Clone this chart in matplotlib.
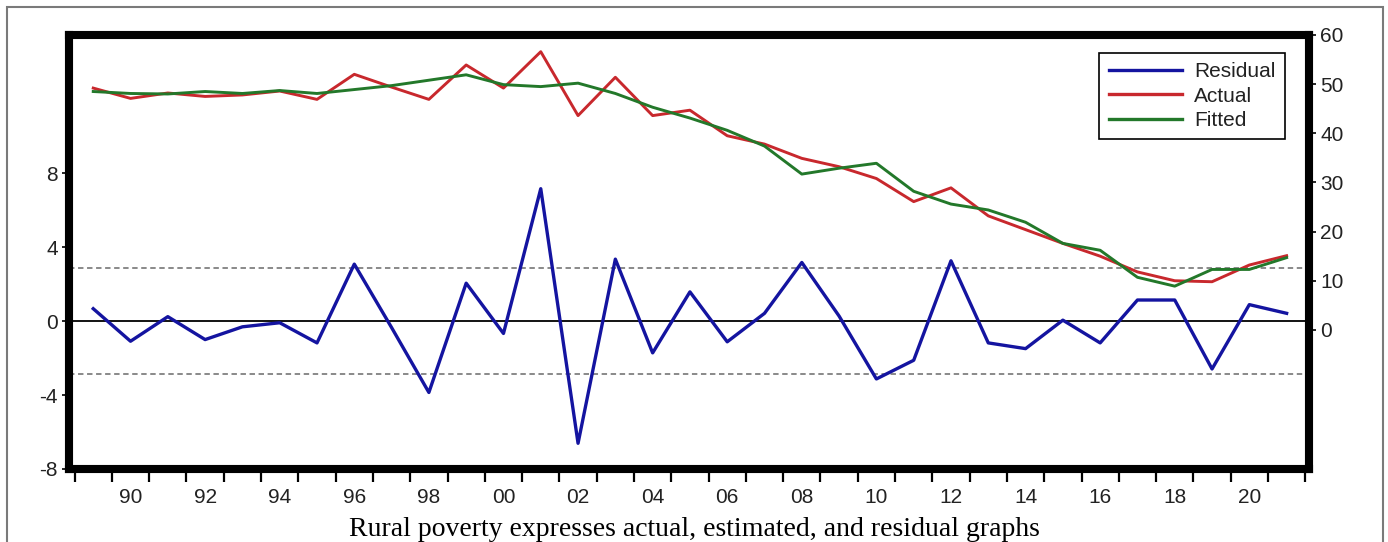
import matplotlib
matplotlib.use("Agg")
import matplotlib.pyplot as plt
from matplotlib.patches import Rectangle
from matplotlib.lines import Line2D

years = list(range(1989, 2022))
residual = [0.67, -1.09, 0.24, -1.0, -0.31, -0.09, -1.18, 3.08, -0.35, -3.86,
            2.05, -0.67, 7.16, -6.61, 3.35, -1.72, 1.58, -1.12, 0.42, 3.17,
            0.27, -3.13, -2.12, 3.26, -1.18, -1.49, 0.05, -1.18, 1.14, 1.14,
            -2.59, 0.89, 0.42]
actual = [49.2, 47.1, 48.2, 47.5, 47.8, 48.6, 46.9, 52.0, 49.4, 46.9,
          53.9, 49.2, 56.6, 43.6, 51.4, 43.6, 44.7, 39.5, 37.8, 34.9,
          33.2, 30.8, 26.1, 28.9, 23.2, 20.4, 17.6, 15.0, 11.8, 10.0,
          9.8, 13.2, 15.1]
fitted = [48.5, 48.1, 48.0, 48.5, 48.1, 48.7, 48.1, 48.9, 49.7, 50.8,
          51.9, 49.9, 49.5, 50.2, 48.1, 45.3, 43.1, 40.6, 37.4, 31.7,
          32.9, 33.9, 28.2, 25.6, 24.4, 21.9, 17.6, 16.2, 10.7, 8.9,
          12.3, 12.3, 14.7]
resid_band = 2.85
label_years = list(range(1990, 2021, 2))
label_texts = ["90", "92", "94", "96", "98", "00", "02", "04", "06", "08",
               "10", "12", "14", "16", "18", "20"]
left_ticks = [-8, -4, 0, 4, 8]
right_ticks = [0, 10, 20, 30, 40, 50, 60]
title = "Rural poverty expresses actual, estimated, and residual graphs"

W, H = 1388, 542
fig = plt.figure(figsize=(W / 100, H / 100), dpi=100)
fig.patch.set_facecolor("white")

# outer frame
fig.patches.append(Rectangle((7 / W, -0.1), (1383 - 7) / W, 1.1 - 7 / H,
                             transform=fig.transFigure, fill=False,
                             edgecolor="#7a7a7a", linewidth=1.5))

L, R, T, B = 69, 1309, 34.5, 469
ax = fig.add_axes([L / W, (H - B) / H, (R - L) / W, (B - T) / H])
ax2 = ax.twinx()

blue = "#1414a0"
red = "#c8282d"
green = "#23782a"

ax.axhline(0, color="black", linewidth=1.3, zorder=1)
ax.axhline(resid_band, color="#808080", linewidth=1.3, linestyle=(0, (3, 2)), zorder=1)
ax.axhline(-resid_band, color="#808080", linewidth=1.3, linestyle=(0, (3, 2)), zorder=1)
ax.plot(years, residual, color=blue, linewidth=2.4, zorder=3)
ax2.plot(years, actual, color=red, linewidth=2.1, zorder=3)
ax2.plot(years, fitted, color=green, linewidth=2.1, zorder=3)

ax.set_xlim(1988.35, 2021.6)
ax.set_ylim(-8, 15.5)
ax2.set_ylim(-28.3, 60.1)

ax.set_yticks(left_ticks)
ax.set_yticklabels([str(t) for t in left_ticks])
ax2.set_yticks(right_ticks)
ax2.set_yticklabels([str(t) for t in right_ticks])

half = [y - 0.5 for y in years] + [years[-1] + 0.5]
ax.set_xticks(half)
ax.set_xticklabels([""] * len(half))
ax.set_xticks(label_years, minor=True)
ax.set_xticklabels(label_texts, minor=True)

fam = ["Liberation Sans", "DejaVu Sans"]
fs = 15
for lab in ax.get_xticklabels(minor=True) + ax.get_yticklabels() + ax2.get_yticklabels():
    lab.set_fontfamily(fam)
    lab.set_fontsize(fs)
    lab.set_color("#222222")

ax.tick_params(axis="x", which="major", direction="out", length=9, width=1.6, color="black")
ax.tick_params(axis="x", which="minor", length=0, pad=14)
ax.tick_params(axis="y", direction="out", length=5, width=1.2, pad=3)
ax2.tick_params(axis="y", direction="out", length=5, width=1.2, pad=3)

for a in (ax, ax2):
    for s in a.spines.values():
        s.set_linewidth(5.8)
        s.set_color("black")

handles = [Line2D([], [], color=blue, linewidth=2.4),
           Line2D([], [], color=red, linewidth=2.4),
           Line2D([], [], color=green, linewidth=2.4)]
leg = ax2.legend(handles, ["Residual", "Actual", "Fitted"],
                 loc="upper right", bbox_to_anchor=((1285 - L) / (R - L), (B - 53) / (B - T)),
                 frameon=True, fancybox=False, framealpha=1, edgecolor="black",
                 prop=dict(family=fam, size=fs),
                 handlelength=3.5, handletextpad=0.6, borderpad=0.45,
                 labelspacing=0.25, borderaxespad=0)
leg.get_frame().set_linewidth(1.2)
for t in leg.get_texts():
    t.set_color("#222222")

fig.text(694 / W, 1 - 530 / H, title, ha="center", va="center",
         fontfamily=["Liberation Serif", "DejaVu Serif"], fontsize=20, color="black")

fig.savefig("out.png", dpi=100)
